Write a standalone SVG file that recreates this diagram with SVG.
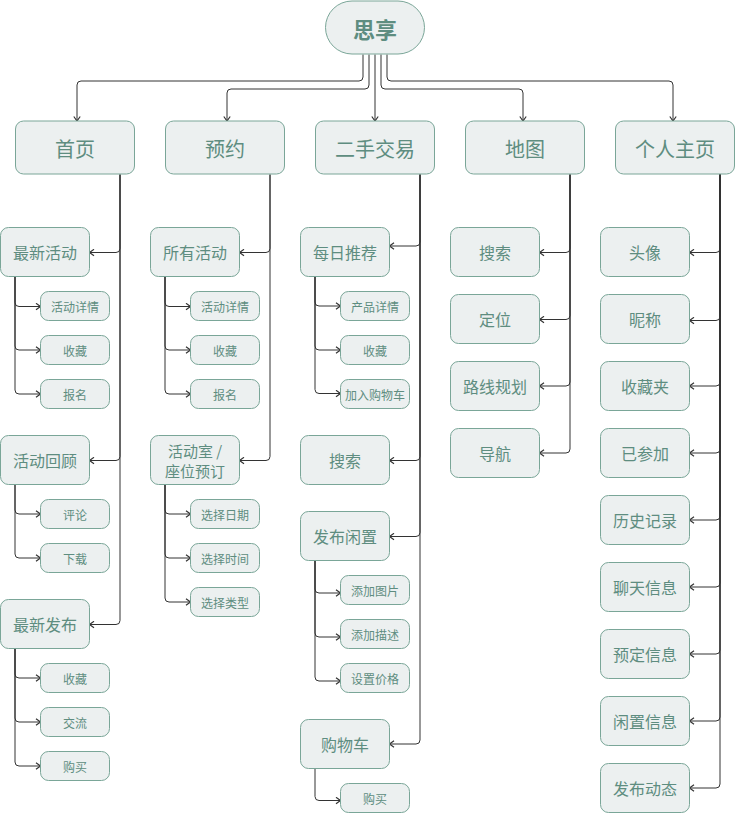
<svg xmlns="http://www.w3.org/2000/svg" width="735" height="814" viewBox="0 0 735 814">
<defs>
<style>
.n{fill:#ecf0f0;stroke:#7aa698;stroke-width:1}
.t{font-family:"Noto Sans CJK SC","Noto Sans",sans-serif;fill:#5e8d80;text-anchor:middle;dominant-baseline:central}
.t0{font-size:22px;font-weight:bold}
.t1{font-size:20px}
.t2{font-size:16px}
.t2s{font-size:15px}
.t3{font-size:12px}
.c path{fill:none;stroke:#333;stroke-width:1;marker-end:url(#a)}
</style>
<marker id="a" markerWidth="8" markerHeight="8" refX="6.5" refY="4" orient="auto" markerUnits="userSpaceOnUse">
<path d="M2,0.8 L6.5,4 L2,7.2" fill="none" stroke="#333" stroke-width="1.2"/>
</marker>
</defs>
<rect width="735" height="814" fill="#fff"/>
<g class="c" id="connectors">
<path d="M363 54.5V77Q363 81 359 81H81Q77 81 77 85V121"/>
<path d="M369 54.5V85Q369 89 365 89H231Q227 89 227 93V121"/>
<path d="M375 54.5V121"/>
<path d="M381 54.5V85Q381 89 385 89H519Q523 89 523 93V121"/>
<path d="M387 54.5V77Q387 81 391 81H669Q673 81 673 85V121"/>
<path d="M120 174.5V248.5Q120 252.5 116 252.5H89.5"/>
<path d="M120 174.5V456.5Q120 460.5 116 460.5H89.5"/>
<path d="M120 174.5V620.5Q120 624.5 116 624.5H89.5"/>
<path d="M270 174.5V248.5Q270 252.5 266 252.5H239.5"/>
<path d="M270 174.5V456.5Q270 460.5 266 460.5H239.5"/>
<path d="M420 174.5V242Q420 246 416 246H389.5"/>
<path d="M420 174.5V456.5Q420 460.5 416 460.5H389.5"/>
<path d="M420 174.5V532.5Q420 536.5 416 536.5H389.5"/>
<path d="M420 174.5V740Q420 744 416 744H389.5"/>
<path d="M570 174.5V248.5Q570 252.5 566 252.5H539.5"/>
<path d="M570 174.5V315.5Q570 319.5 566 319.5H539.5"/>
<path d="M570 174.5V382Q570 386 566 386H539.5"/>
<path d="M570 174.5V449Q570 453 566 453H539.5"/>
<path d="M720 174.5V248.5Q720 252.5 716 252.5H689.5"/>
<path d="M720 174.5V316.5Q720 320.5 716 320.5H689.5"/>
<path d="M720 174.5V382Q720 386 716 386H689.5"/>
<path d="M720 174.5V449Q720 453 716 453H689.5"/>
<path d="M720 174.5V516Q720 520 716 520H689.5"/>
<path d="M720 174.5V583Q720 587 716 587H689.5"/>
<path d="M720 174.5V650Q720 654 716 654H689.5"/>
<path d="M720 174.5V717Q720 721 716 721H689.5"/>
<path d="M720 174.5V784Q720 788 716 788H689.5"/>
<path d="M15 276.5V302.5Q15 306.5 19 306.5H40.5"/>
<path d="M15 276.5V346Q15 350 19 350H40.5"/>
<path d="M15 276.5V390Q15 394 19 394H40.5"/>
<path d="M15 484.5V510Q15 514 19 514H40.5"/>
<path d="M15 484.5V554Q15 558 19 558H40.5"/>
<path d="M15 648.5V674Q15 678 19 678H40.5"/>
<path d="M15 648.5V718Q15 722 19 722H40.5"/>
<path d="M15 648.5V762Q15 766 19 766H40.5"/>
<path d="M165 276.5V302.5Q165 306.5 169 306.5H190.5"/>
<path d="M165 276.5V346Q165 350 169 350H190.5"/>
<path d="M165 276.5V390Q165 394 169 394H190.5"/>
<path d="M165 484.5V510Q165 514 169 514H190.5"/>
<path d="M165 484.5V554Q165 558 169 558H190.5"/>
<path d="M165 484.5V598Q165 602 169 602H190.5"/>
<path d="M315 276.5V302Q315 306 319 306H340.5"/>
<path d="M315 276.5V346Q315 350 319 350H340.5"/>
<path d="M315 276.5V389.5Q315 393.5 319 393.5H340.5"/>
<path d="M315 560.5V589Q315 593 319 593H340.5"/>
<path d="M315 560.5V633Q315 637 319 637H340.5"/>
<path d="M315 560.5V677Q315 681 319 681H340.5"/>
<path d="M315 768.5V796.5Q315 800.5 319 800.5H340.5"/>
</g>
<g id="root"><rect class="n" x="325.5" y="1" width="99" height="53" rx="26.5"/><text class="t t0" x="375" y="28">思享</text></g>
<g id="shouye"><rect class="n" x="15.5" y="121" width="119" height="53" rx="8"/><text class="t t1" x="75" y="148">首页</text></g>
<g id="yuyue"><rect class="n" x="165.5" y="121" width="119" height="53" rx="8"/><text class="t t1" x="225" y="148">预约</text></g>
<g id="ershou"><rect class="n" x="315.5" y="121" width="119" height="53" rx="8"/><text class="t t1" x="375" y="148">二手交易</text></g>
<g id="ditu"><rect class="n" x="465.5" y="121" width="119" height="53" rx="8"/><text class="t t1" x="525" y="148">地图</text></g>
<g id="geren"><rect class="n" x="615.5" y="121" width="119" height="53" rx="8"/><text class="t t1" x="675" y="148">个人主页</text></g>

<g id="zxhd"><rect class="n" x="0.5" y="227.5" width="89" height="49" rx="8"/><text class="t t2" x="45" y="252">最新活动</text></g>
<g id="zxhd1"><rect class="n" x="40.5" y="291.5" width="69" height="29" rx="8"/><text class="t t3" x="75" y="306">活动详情</text></g>
<g id="zxhd2"><rect class="n" x="40.5" y="335.5" width="69" height="29" rx="8"/><text class="t t3" x="75" y="350">收藏</text></g>
<g id="zxhd3"><rect class="n" x="40.5" y="379.5" width="69" height="29" rx="8"/><text class="t t3" x="75" y="394">报名</text></g>
<g id="hdhg"><rect class="n" x="0.5" y="435.5" width="89" height="49" rx="8"/><text class="t t2" x="45" y="460">活动回顾</text></g>
<g id="hdhg1"><rect class="n" x="40.5" y="499.5" width="69" height="29" rx="8"/><text class="t t3" x="75" y="514">评论</text></g>
<g id="hdhg2"><rect class="n" x="40.5" y="543.5" width="69" height="29" rx="8"/><text class="t t3" x="75" y="558">下载</text></g>
<g id="zxfb"><rect class="n" x="0.5" y="599.5" width="89" height="49" rx="8"/><text class="t t2" x="45" y="624">最新发布</text></g>
<g id="zxfb1"><rect class="n" x="40.5" y="663.5" width="69" height="29" rx="8"/><text class="t t3" x="75" y="678">收藏</text></g>
<g id="zxfb2"><rect class="n" x="40.5" y="707.5" width="69" height="29" rx="8"/><text class="t t3" x="75" y="722">交流</text></g>
<g id="zxfb3"><rect class="n" x="40.5" y="751.5" width="69" height="29" rx="8"/><text class="t t3" x="75" y="766">购买</text></g>

<g id="syhd"><rect class="n" x="150.5" y="227.5" width="89" height="49" rx="8"/><text class="t t2" x="195" y="252">所有活动</text></g>
<g id="syhd1"><rect class="n" x="190.5" y="291.5" width="69" height="29" rx="8"/><text class="t t3" x="225" y="306">活动详情</text></g>
<g id="syhd2"><rect class="n" x="190.5" y="335.5" width="69" height="29" rx="8"/><text class="t t3" x="225" y="350">收藏</text></g>
<g id="syhd3"><rect class="n" x="190.5" y="379.5" width="69" height="29" rx="8"/><text class="t t3" x="225" y="394">报名</text></g>
<g id="hds"><rect class="n" x="150.5" y="435.5" width="89" height="49" rx="8"/><text class="t t2s" x="195" y="450">活动室 /</text><text class="t t2s" x="195" y="470">座位预订</text></g>
<g id="hds1"><rect class="n" x="190.5" y="499.5" width="69" height="29" rx="8"/><text class="t t3" x="225" y="514">选择日期</text></g>
<g id="hds2"><rect class="n" x="190.5" y="543.5" width="69" height="29" rx="8"/><text class="t t3" x="225" y="558">选择时间</text></g>
<g id="hds3"><rect class="n" x="190.5" y="587.5" width="69" height="29" rx="8"/><text class="t t3" x="225" y="602">选择类型</text></g>

<g id="mrtj"><rect class="n" x="300.5" y="227.5" width="89" height="49" rx="8"/><text class="t t2" x="345" y="252">每日推荐</text></g>
<g id="mrtj1"><rect class="n" x="340.5" y="291.5" width="69" height="29" rx="8"/><text class="t t3" x="375" y="306">产品详情</text></g>
<g id="mrtj2"><rect class="n" x="340.5" y="335.5" width="69" height="29" rx="8"/><text class="t t3" x="375" y="350">收藏</text></g>
<g id="mrtj3"><rect class="n" x="340.5" y="379.5" width="69" height="29" rx="8"/><text class="t t3" x="375" y="394">加入购物车</text></g>
<g id="ss2"><rect class="n" x="300.5" y="435.5" width="89" height="49" rx="8"/><text class="t t2" x="345" y="460">搜索</text></g>
<g id="fbxz"><rect class="n" x="300.5" y="511.5" width="89" height="49" rx="8"/><text class="t t2" x="345" y="536">发布闲置</text></g>
<g id="fbxz1"><rect class="n" x="340.5" y="575.5" width="69" height="29" rx="8"/><text class="t t3" x="375" y="590">添加图片</text></g>
<g id="fbxz2"><rect class="n" x="340.5" y="619.5" width="69" height="29" rx="8"/><text class="t t3" x="375" y="634">添加描述</text></g>
<g id="fbxz3"><rect class="n" x="340.5" y="663.5" width="69" height="29" rx="8"/><text class="t t3" x="375" y="678">设置价格</text></g>
<g id="gwc"><rect class="n" x="300.5" y="719.5" width="89" height="49" rx="8"/><text class="t t2" x="345" y="744">购物车</text></g>
<g id="gwc1"><rect class="n" x="340.5" y="783.5" width="69" height="29" rx="8"/><text class="t t3" x="375" y="798">购买</text></g>

<g id="ss"><rect class="n" x="450.5" y="227.5" width="89" height="49" rx="8"/><text class="t t2" x="495" y="252">搜索</text></g>
<g id="dw"><rect class="n" x="450.5" y="294.5" width="89" height="49" rx="8"/><text class="t t2" x="495" y="319">定位</text></g>
<g id="lxgh"><rect class="n" x="450.5" y="361.5" width="89" height="49" rx="8"/><text class="t t2" x="495" y="386">路线规划</text></g>
<g id="dh"><rect class="n" x="450.5" y="428.5" width="89" height="49" rx="8"/><text class="t t2" x="495" y="453">导航</text></g>

<g id="tx"><rect class="n" x="600.5" y="227.5" width="89" height="49" rx="8"/><text class="t t2" x="645" y="252">头像</text></g>
<g id="nc"><rect class="n" x="600.5" y="294.5" width="89" height="49" rx="8"/><text class="t t2" x="645" y="319">昵称</text></g>
<g id="scj"><rect class="n" x="600.5" y="361.5" width="89" height="49" rx="8"/><text class="t t2" x="645" y="386">收藏夹</text></g>
<g id="ycj"><rect class="n" x="600.5" y="428.5" width="89" height="49" rx="8"/><text class="t t2" x="645" y="453">已参加</text></g>
<g id="lsjl"><rect class="n" x="600.5" y="495.5" width="89" height="49" rx="8"/><text class="t t2" x="645" y="520">历史记录</text></g>
<g id="ltxx"><rect class="n" x="600.5" y="562.5" width="89" height="49" rx="8"/><text class="t t2" x="645" y="587">聊天信息</text></g>
<g id="ydxx"><rect class="n" x="600.5" y="629.5" width="89" height="49" rx="8"/><text class="t t2" x="645" y="654">预定信息</text></g>
<g id="xzxx"><rect class="n" x="600.5" y="696.5" width="89" height="49" rx="8"/><text class="t t2" x="645" y="721">闲置信息</text></g>
<g id="fbdt"><rect class="n" x="600.5" y="763.5" width="89" height="49" rx="8"/><text class="t t2" x="645" y="788">发布动态</text></g>
</svg>
